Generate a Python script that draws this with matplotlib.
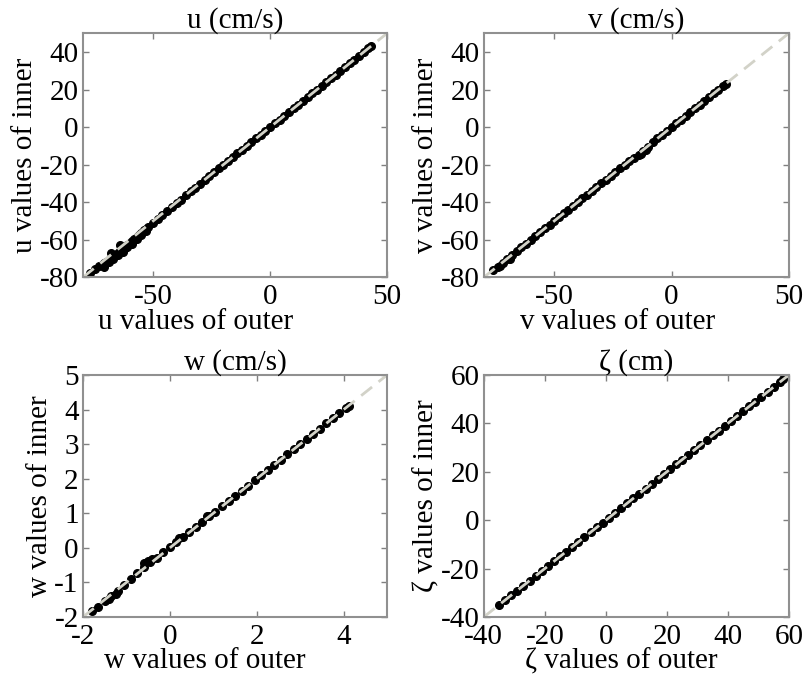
import matplotlib
matplotlib.use('Agg')
import matplotlib.pyplot as plt

plt.rcParams['font.family'] = ['Liberation Serif', 'DejaVu Serif']
plt.rcParams['font.size'] = 21
plt.rcParams['axes.unicode_minus'] = False

# u (cm/s)
u_outer = [-77, -75, -73, -72, -71, -70, -69, -68, -67, -66,
           -65, -64, -63, -62, -61, -60, -59, -58, -57, -56,
           -55, -54, -53, -52, -50, -48, -46, -44, -42, -40,
           -38, -36, -34, -32, -30, -28, -26, -24, -22, -20,
           -18, -16, -14, -12, -10, -8, -6, -4, -2, 0,
           2, 4, 6, 8, 10, 12, 14, 16, 18, 20,
           22, 24, 26, 28, 30, 32, 34, 36, 38, 40, 42, 43,
           -71, -69, -67, -65, -63, -61, -59, -57, -55, -53, -68, -64, -60]
u_inner = [-77.5, -75.8, -74.2, -73.5, -72.6, -71.8, -71.0, -69.5, -69.2, -68.0,
           -67.3, -66.0, -65.5, -64.2, -63.0, -62.0, -60.8, -59.5, -58.6, -57.5,
           -56.2, -55.0, -54.1, -53.0, -51.0, -48.8, -46.7, -44.6, -42.5, -40.6,
           -38.7, -36.4, -34.3, -32.2, -30.1, -28.1, -26.0, -24.0, -22.0, -20.0,
           -18.0, -16.0, -14.0, -12.1, -10.3, -8.0, -6.0, -4.0, -2.0, 0.0,
           2, 4, 6, 8, 10, 12, 14, 16, 18, 20,
           22, 24, 26, 28, 30, 32, 34, 36, 38, 40, 42, 43,
           -74.5, -72.0, -70.5, -68.0, -66.5, -64.0, -62.0, -59.5, -57.5, -55.5, -67.0, -63.0, -61.5]

# v (cm/s)
v_outer = [-76, -74, -72, -70, -68, -66, -64, -62, -60, -58,
           -56, -54, -52, -50, -48, -46, -44, -42, -40, -38,
           -36, -34, -32, -30, -28, -26, -24, -22, -20, -18,
           -16, -14, -12, -10, -8, -6, -4, -2, 0, 2,
           4, 6, 8, 10, 12, 14, 16, 18, 20, 22, 23,
           -73, -69, -13, -11]
v_inner = [-76.3, -74.4, -72.3, -70.2, -68.2, -66.1, -64.0, -62.1, -60.0, -58.1,
           -56.0, -54.0, -52.1, -50.0, -48.0, -46.0, -44.0, -42.0, -40.0, -38.0,
           -36.0, -34.0, -32.0, -30.0, -28.0, -26.0, -24.0, -22.0, -20.0, -18.2,
           -16.3, -14.6, -12.8, -10.4, -8.2, -6.0, -4.0, -2.0, 0.0, 2.0,
           4.0, 6.0, 8.0, 10.0, 12.0, 14.0, 16.0, 18.0, 20.0, 22.0, 23.0,
           -74.2, -70.0, -14.5, -12.4]

# w (cm/s)
w_outer = [-1.8, -1.65, -1.5, -1.35, -1.2, -1.05, -0.9, -0.75, -0.6, -0.45,
           -0.3, -0.15, 0.0, 0.15, 0.3, 0.45, 0.6, 0.75, 0.9, 1.05,
           1.2, 1.35, 1.5, 1.65, 1.8, 1.95, 2.1, 2.25, 2.4, 2.55,
           2.7, 2.85, 3.0, 3.15, 3.3, 3.45, 3.6, 3.75, 3.9, 4.05, 4.12,
           -1.4, -1.25, -0.6, -0.5, -0.4, 0.85, 0.2]
w_inner = [-1.82, -1.70, -1.55, -1.40, -1.25, -1.07, -0.91, -0.74, -0.55, -0.42,
           -0.28, -0.12, 0.02, 0.16, 0.31, 0.45, 0.60, 0.76, 0.93, 1.05,
           1.20, 1.35, 1.50, 1.65, 1.80, 1.95, 2.10, 2.25, 2.40, 2.55,
           2.70, 2.85, 3.00, 3.15, 3.30, 3.45, 3.60, 3.75, 3.90, 4.05, 4.10,
           -1.48, -1.33, -0.45, -0.38, -0.32, 0.93, 0.27]

# zeta (cm)
z_outer = [-35, -33, -31, -29, -27, -25, -23, -21, -19, -17,
           -15, -13, -11, -9, -7, -5, -3, -1, 1, 3,
           5, 7, 9, 11, 13, 15, 17, 19, 21, 23,
           25, 27, 29, 31, 33, 35, 37, 39, 41, 43,
           45, 47, 49, 51, 53, 55, 57, 58]
z_inner = [-35.2, -33.1, -31.0, -29.1, -27.0, -25.0, -23.1, -21.0, -19.0, -17.0,
           -15.0, -13.1, -11.0, -9.0, -7.0, -5.0, -3.0, -1.0, 1.0, 3.0,
           5.0, 7.0, 9.0, 11.0, 13.0, 15.0, 17.0, 19.0, 21.0, 23.0,
           25.0, 27.0, 29.0, 31.0, 33.0, 35.0, 37.0, 39.0, 41.0, 43.0,
           45.0, 47.0, 49.0, 51.0, 53.0, 55.0, 57.0, 58.2]

panels = [
    ('u (cm/s)', 'u', u_outer, u_inner, (-80, 50), [-50, 0, 50], [-80, -60, -40, -20, 0, 20, 40]),
    ('v (cm/s)', 'v', v_outer, v_inner, (-80, 50), [-50, 0, 50], [-80, -60, -40, -20, 0, 20, 40]),
    ('w (cm/s)', 'w', w_outer, w_inner, (-2, 5), [-2, 0, 2, 4], [-2, -1, 0, 1, 2, 3, 4, 5]),
    ('\u03b6 (cm)', '\u03b6', z_outer, z_inner, (-40, 60), [-40, -20, 0, 20, 40, 60], [-40, -20, 0, 20, 40, 60]),
]

boxes = [[0.103, 0.591, 0.378, 0.360],
         [0.601, 0.591, 0.379, 0.360],
         [0.103, 0.090, 0.378, 0.357],
         [0.601, 0.090, 0.379, 0.357]]
xlab_pos = [0.37, 0.44, 0.40, 0.45]

fig = plt.figure(figsize=(8.05, 6.78), dpi=100)

for i, (title, name, xo, yi, lim, xt, yt) in enumerate(panels):
    ax = fig.add_axes(boxes[i])
    ax.plot(xo, yi, 'o', mfc='black', mec='black', ms=5.5, mew=1)
    ax.plot(lim, lim, color='#d2d2c8', lw=2, dashes=(5, 3))
    ax.set_xlim(lim)
    ax.set_ylim(lim)
    ax.set_xticks(xt)
    ax.set_yticks(yt)
    ax.set_title(title, fontsize=21, pad=4)
    ax.set_xlabel(name + ' values of outer', fontsize=21)
    ax.set_ylabel(name + ' values of inner', fontsize=21, labelpad=1)
    ax.xaxis.set_label_coords(xlab_pos[i], -0.13)
    ax.tick_params(direction='in', top=True, right=True, length=4, width=1,
                   color='#808080', labelsize=21, pad=3)
    ax.tick_params(axis='x', pad=5)
    for s in ax.spines.values():
        s.set_color('#909090')
        s.set_linewidth(1.5)

fig.savefig('out.png', dpi=100)
